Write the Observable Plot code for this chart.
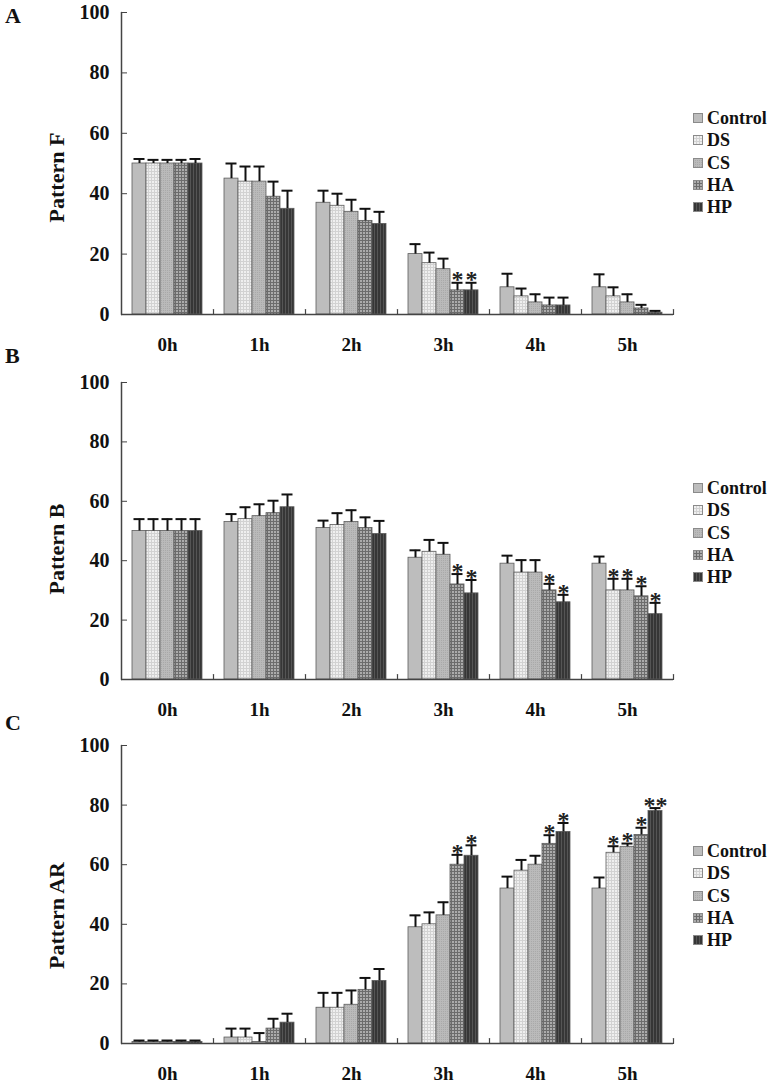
<!DOCTYPE html>
<html>
<head>
<meta charset="utf-8">
<script src="https://cdn.jsdelivr.net/npm/d3@7"></script>
<script src="https://cdn.jsdelivr.net/npm/@observablehq/plot@0.6"></script>
<style>
  body { margin: 0; background: #fff; }
  #root { position: relative; width: 769px; height: 1089px; overflow: hidden; background: #fff;
    font-family: "Liberation Serif", "Times New Roman", serif; font-weight: bold; color: #111; }
  .panel { position: absolute; left: 0; }
  .letter { position: absolute; left: 5px; font-size: 22px; font-weight: bold; line-height: 1; }
  .legend { position: absolute; left: 693px; font-size: 18px; line-height: 22.3px; }
  .legend div { display: flex; align-items: center; height: 22.3px; }
  .legend svg { margin-right: 4px; }
  g[aria-label="y-axis tick label"] text { font-size: 20px; }
</style>
</head>
<body>
<svg width="0" height="0" style="position:absolute">
  <defs>
    <pattern id="pCtrl" width="3" height="3" patternUnits="userSpaceOnUse">
      <rect width="3" height="3" fill="#bdbdbd"/>
    </pattern>
    <pattern id="pDS" width="3" height="3" patternUnits="userSpaceOnUse">
      <rect width="3" height="3" fill="#efefef"/>
      <path d="M0 0.5H3M0.5 0V3" stroke="#d2d2d2" stroke-width="1"/>
    </pattern>
    <pattern id="pCS" width="2" height="2" patternUnits="userSpaceOnUse">
      <rect width="2" height="2" fill="#bababa"/>
      <rect width="1" height="1" fill="#a9a9a9"/>
    </pattern>
    <pattern id="pHA" width="3" height="3" patternUnits="userSpaceOnUse">
      <rect width="3" height="3" fill="#ababab"/>
      <path d="M0 0.5H3M0.5 0V3" stroke="#6c6c6c" stroke-width="1"/>
    </pattern>
    <pattern id="pHP" width="3" height="3" patternUnits="userSpaceOnUse">
      <rect width="3" height="3" fill="#363636"/>
      <path d="M0.5 0V3" stroke="#555555" stroke-width="1"/>
    </pattern>
  </defs>
</svg>
<div id="root"></div>
<script>
const groups = ["Control", "DS", "CS", "HA", "HP"];
const times = ["0h", "1h", "2h", "3h", "4h", "5h"];
const yTicks = [0, 20, 40, 60, 80, 100];
const groupFills = ["url(#pCtrl)", "url(#pDS)", "url(#pCS)", "url(#pHA)", "url(#pHP)"];

// Pattern F (panel A): rows = times, columns = groups
const fValues = [
  [50, 50, 50, 50, 50],
  [45, 44, 44, 39, 35],
  [37, 36, 34, 31, 30],
  [20, 17, 15, 8, 8],
  [9, 6, 4, 3, 3],
  [9, 6, 4, 2, 0.6]
];
const fErrors = [
  [1.5, 1.2, 1.2, 1.2, 1.5],
  [5, 5, 5, 5, 6],
  [4, 4, 4, 4, 4],
  [3.3, 3.5, 3.5, 2.5, 2.5],
  [4.5, 2.6, 2.7, 2.6, 2.6],
  [4.3, 3, 2.7, 1.2, 0.6]
];
const fStars = [
  ["", "", "", "", ""],
  ["", "", "", "", ""],
  ["", "", "", "", ""],
  ["", "", "", "*", "*"],
  ["", "", "", "", ""],
  ["", "", "", "", ""]
];

// Pattern B (panel B)
const bValues = [
  [50, 50, 50, 50, 50],
  [53, 54, 55, 56, 58],
  [51, 52, 53, 51, 49],
  [41, 43, 42, 32, 29],
  [39, 36, 36, 30, 26],
  [39, 30, 30, 28, 22]
];
const bErrors = [
  [4, 4, 4, 4, 4],
  [2.7, 4, 4, 4.2, 4.3],
  [2.5, 4, 4, 3.6, 4.4],
  [2.5, 4, 4, 3.5, 4.5],
  [2.7, 4.2, 4.2, 2.2, 2.5],
  [2.4, 3.9, 3.9, 3.4, 3.8]
];
const bStars = [
  ["", "", "", "", ""],
  ["", "", "", "", ""],
  ["", "", "", "", ""],
  ["", "", "", "*", "*"],
  ["", "", "", "*", "*"],
  ["", "*", "*", "*", "*"]
];

// Pattern AR (panel C)
const cValues = [
  [0.5, 0.5, 0.5, 0.5, 0.5],
  [2, 2, 0.5, 5, 7],
  [12, 12, 13, 18, 21],
  [39, 40, 43, 60, 63],
  [52, 58, 60, 67, 71],
  [52, 64, 66, 70, 78]
];
const cErrors = [
  [0.5, 0.5, 0.5, 0.5, 0.5],
  [3, 3, 3, 3.3, 3],
  [5, 5, 4.8, 4, 4],
  [4, 4, 4.4, 3.3, 3.5],
  [4, 3.6, 3, 2.9, 3],
  [3.7, 2.2, 1.1, 2.4, 1]
];
const cStars = [
  ["", "", "", "", ""],
  ["", "", "", "", ""],
  ["", "", "", "", ""],
  ["", "", "", "*", "*"],
  ["", "", "", "*", "*"],
  ["", "*", "*", "*", "**"]
];

const panels = [
  {letter: "A", label: "Pattern F", values: fValues, errors: fErrors, stars: fStars,
   top: 0, mt: 12, mb: 46, letterTop: 5, legendTop: 107, labelShift: 14},
  {letter: "B", label: "Pattern B", values: bValues, errors: bErrors, stars: bStars,
   top: 362, mt: 20, mb: 43, letterTop: 345, legendTop: 477, labelShift: 18},
  {letter: "C", label: "Pattern AR", values: cValues, errors: cErrors, stars: cStars,
   top: 727, mt: 18, mb: 44, letterTop: 712, legendTop: 840, labelShift: 21}
];

const H = 360;
const lineShape = {draw(context, l) { context.moveTo(0, 0); context.lineTo(0, -l); }};

const root = document.getElementById("root");

for (const p of panels) {
  const data = [];
  times.forEach((t, i) => groups.forEach((g, j) => data.push({
    time: t, group: g, value: p.values[i][j], err: p.errors[i][j], star: p.stars[i][j]
  })));

  const chart = Plot.plot({
    width: 769,
    height: H,
    marginLeft: 120,
    marginRight: 96,
    marginTop: p.mt,
    marginBottom: p.mb,
    style: {fontFamily: '"Liberation Serif", "Times New Roman", serif', fontSize: "19px", fontWeight: "bold", color: "#111", background: "transparent"},
    fx: {domain: times, padding: 0, label: null},
    x: {domain: groups, paddingInner: 0, paddingOuter: 0.7, axis: null},
    y: {domain: [0, 100]},
    color: {domain: groups, range: groupFills},
    marks: [
      Plot.barY(data, {fx: "time", x: "group", y: "value", fill: "group", stroke: "#5c5c5c", strokeWidth: 0.8}),
      Plot.ruleX(data, {fx: "time", x: "group", y1: "value", y2: d => d.value + d.err, stroke: "#111", strokeWidth: 2}),
      Plot.tickY(data, {fx: "time", x: "group", y: d => d.value + d.err, stroke: "#111", strokeWidth: 2, inset: 1.5}),
      Plot.text(data.filter(d => d.star), {fx: "time", x: "group", y: d => d.value + d.err, text: "star",
        fontSize: 24, fontWeight: "bold", fill: "#222", lineAnchor: "middle", dy: -3, letterSpacing: -4}),
      Plot.ruleY([0], {stroke: "#444", strokeWidth: 1.5}),
      // small inward tick marks at the group boundaries
      Plot.vector([0], {frameAnchor: "bottom-right", length: 5, anchor: "start", shape: lineShape, stroke: "#444", strokeWidth: 1.2}),
      // y axis line (left edge of first facet only)
      Plot.vector([0], {frameAnchor: "bottom-left", facetAnchor: "left", length: H - p.mt - p.mb, anchor: "start",
        shape: lineShape, stroke: "#444", strokeWidth: 1.5}),
      Plot.axisY({ticks: yTicks, tickSize: -6, tickPadding: 18, stroke: "#444", label: null}),
      Plot.axisFx({anchor: "bottom", tickSize: 0, tickPadding: 23, label: null}),
      // y axis title
      Plot.text([p.label], {text: d => d, frameAnchor: "left", facetAnchor: "left", rotate: -90,
        textAnchor: "middle", lineAnchor: "middle",
        dx: -65, dy: p.labelShift, fontSize: 22, letterSpacing: 1, fill: "#111"})
    ]
  });
  chart.classList.add("panel");
  chart.style.top = p.top + "px";
  root.appendChild(chart);

  const letter = document.createElement("div");
  letter.className = "letter";
  letter.style.top = p.letterTop + "px";
  letter.textContent = p.letter;
  root.appendChild(letter);

  const legend = document.createElement("div");
  legend.className = "legend";
  legend.style.top = p.legendTop + "px";
  groups.forEach((g, j) => {
    const row = document.createElement("div");
    row.innerHTML = `<svg width="10" height="10"><rect x="0.5" y="0.5" width="9" height="9" fill="${groupFills[j]}" stroke="#8a8a8a" stroke-width="1"/></svg><span>${g}</span>`;
    legend.appendChild(row);
  });
  root.appendChild(legend);
}
</script>
</body>
</html>
